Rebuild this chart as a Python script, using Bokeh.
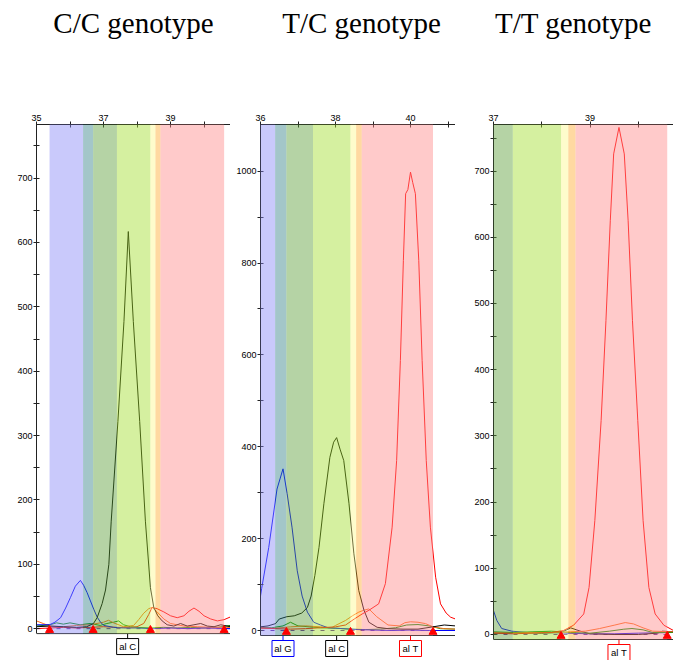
from bokeh.plotting import figure
from bokeh.layouts import column, row
from bokeh.models import Range1d, FixedTicker, Span
from bokeh.core.properties import value
from bokeh.embed import file_html
from bokeh.resources import INLINE

# ---------------- data ----------------
titles = ["C/C genotype", "T/C genotype", "T/T genotype"]
title_x = [133, 361, 573]

# allele bins (size, bp) shared by the three panels
bin_left = [35.39, 36.39, 36.69, 37.40, 38.40, 38.55, 38.70]
bin_right = [36.39, 36.69, 37.40, 38.40, 38.55, 38.70, 40.60]
bin_colors = ["#8787f6", "#338087", "#5a9d37", "#a2de2c", "#fdf88e", "#ffab2e", "#ff8989"]
bin_marks = [35.39, 36.69, 38.40, 40.60]

# ---- panel 1 : C/C ----
p1_black_x = [35.0, 35.4, 35.8, 36.2, 36.5, 36.7, 36.81, 36.96, 37.06, 37.16, 37.23, 37.43, 37.61, 37.74,
              37.89, 38.08, 38.25, 38.40, 38.50, 38.62, 38.75, 38.9, 39.1, 39.3, 39.5, 39.7, 39.9, 40.1, 40.3, 40.5, 40.78]
p1_black_y = [3, 4, 3, 2, 3, 8, 17, 39, 60, 100, 167, 322, 477, 617,
              477, 322, 167, 64, 33, 20, 12, 6, 4, 8, 4, 6, 8, 4, 3, 6, 3]
p1_blue_x = [35.0, 35.39, 35.55, 35.72, 35.87, 36.01, 36.16, 36.31, 36.41, 36.51, 36.61, 36.71, 36.81, 36.91,
             37.01, 37.3, 37.6, 38.0, 38.5, 39.0, 39.5, 40.0, 40.78]
p1_blue_y = [6, 6, 10, 17, 32, 48, 66, 75, 67, 56, 43, 30, 18, 10, 5, 2, 1, 1, 0, 1, 0, 1, 0]
p1_red_x = [35.0, 35.4, 35.8, 36.2, 36.6, 37.0, 37.4, 37.8, 38.0, 38.2, 38.35, 38.45, 38.6, 38.8, 39.0, 39.2,
            39.4, 39.55, 39.7, 39.85, 40.0, 40.2, 40.4, 40.6, 40.78]
p1_red_y = [0, 1, 2, 1, 2, 3, 2, 2, 3, 8, 22, 33, 31, 26, 20, 17, 20, 27, 32, 27, 20, 15, 12, 14, 18]
p1_orange_x = [35.0, 35.2, 35.4, 35.8, 36.2, 36.6, 37.0, 37.15, 37.3, 37.6, 37.9, 38.05, 38.2, 38.35, 38.45,
               38.6, 38.8, 39.0, 39.4, 39.8, 40.2, 40.78]
p1_orange_y = [12, 8, 4, 3, 5, 6, 10, 13, 9, 3, 5, 14, 24, 31, 33, 26, 15, 8, 4, 3, 2, 2]
p1_green_x = [35.0, 35.4, 35.6, 35.8, 36.0, 36.3, 36.6, 36.9, 37.1, 37.3, 37.45, 37.6, 37.8, 38.0, 38.4, 38.8,
              39.2, 39.6, 40.0, 40.4, 40.78]
p1_green_y = [4, 6, 9, 7, 9, 6, 8, 5, 8, 10, 12, 6, 3, 2, 1, 2, 1, 2, 1, 2, 5]
p1_purple_x = [35.0, 36.0, 37.0, 38.0, 39.0, 40.0, 40.78]
p1_purple_y = [0, 0, 0, 0, 0, 0, 0]
p1_allele_x = [37.72]
p1_allele_text = ["al C"]
p1_allele_color = ["#000000"]

# ---- panel 2 : T/C ----
p2_blue_x = [36.0, 36.03, 36.22, 36.44, 36.52, 36.60, 36.71, 36.84, 36.98, 37.11, 37.25, 37.42, 37.6, 37.8,
             38.2, 38.6, 39.0, 39.5, 40.0, 40.5, 41.2]
p2_blue_y = [75, 91, 181, 308, 330, 352, 298, 225, 130, 75, 40, 18, 12, 6, 4, 2, 1, 0, 1, 0, 0]
p2_black_x = [36.0, 36.2, 36.4, 36.5, 36.7, 36.9, 37.1, 37.25, 37.35, 37.45, 37.56, 37.69, 37.85, 37.95, 38.03,
              38.12, 38.22, 38.36, 38.49, 38.62, 38.76, 38.89, 39.11, 39.4, 39.8, 40.2, 40.6, 40.9, 41.2]
p2_black_y = [8, 10, 15, 25, 30, 32, 38, 50, 75, 120, 181, 276, 377, 410, 420,
              395, 370, 276, 167, 87, 44, 18, 7, 4, 3, 3, 8, 12, 10]
p2_red_x = [36.0, 36.4, 36.8, 37.2, 37.6, 38.0, 38.27, 38.5, 38.71, 38.89, 39.15, 39.33, 39.51, 39.63, 39.73,
            39.81, 39.87, 39.93, 40.0, 40.06, 40.13, 40.22, 40.31, 40.42, 40.53, 40.67, 40.8, 40.95, 41.07, 41.2]
p2_red_y = [6, 4, 3, 4, 6, 8, 12, 25, 36, 44, 58, 102, 225, 370, 588,
            806, 951, 960, 998, 975, 951, 806, 588, 370, 225, 116, 58, 38, 29, 25]
p2_orange_x = [36.0, 36.4, 36.8, 37.2, 37.6, 37.9, 38.0, 38.27, 38.45, 38.62, 38.75, 38.89, 39.1, 39.4, 39.7,
               39.85, 40.0, 40.2, 40.4, 40.6, 40.9, 41.2]
p2_orange_y = [4, 5, 8, 10, 8, 6, 11, 22, 32, 40, 44, 47, 30, 12, 10, 17, 19, 18, 15, 8, 4, 3]
p2_green_x = [36.0, 36.3, 36.6, 36.8, 37.0, 37.3, 37.6, 38.0, 38.4, 38.8, 39.2, 39.6, 39.9, 40.2, 40.5, 40.8, 41.2]
p2_green_y = [6, 6, 10, 18, 10, 8, 6, 5, 3, 2, 3, 6, 12, 13, 10, 4, 3]
p2_purple_x = [36.0, 37.0, 38.0, 39.0, 40.0, 41.2]
p2_purple_y = [0, 0, 0, 0, 0, 0]
p2_allele_x = [36.60, 38.03, 40.0]
p2_allele_text = ["al G", "al C", "al T"]
p2_allele_color = ["#0000ff", "#000000", "#ff0000"]

# ---- panel 3 : T/T ----
p3_red_x = [37.0, 37.4, 37.8, 38.2, 38.45, 38.66, 38.87, 38.98, 39.1, 39.23, 39.33, 39.42, 39.49, 39.60,
            39.71, 39.79, 39.88, 39.99, 40.1, 40.22, 40.35, 40.53, 40.73]
p3_red_y = [2, 1, 2, 3, 6, 14, 31, 71, 172, 323, 474, 625, 726, 766,
            726, 625, 474, 323, 172, 71, 31, 14, 6]
p3_orange_x = [37.0, 37.4, 37.8, 38.2, 38.6, 38.9, 39.2, 39.5, 39.73, 39.9, 40.1, 40.3, 40.73]
p3_orange_y = [3, 2, 3, 3, 4, 5, 9, 14, 18, 16, 10, 5, 4]
p3_green_x = [37.0, 37.4, 37.8, 38.2, 38.6, 39.0, 39.4, 39.7, 39.87, 40.1, 40.3, 40.73]
p3_green_y = [4, 3, 4, 5, 3, 2, 5, 8, 9, 7, 3, 3]
p3_blue_x = [37.0, 37.07, 37.17, 37.38, 37.7, 38.0, 38.5, 39.0, 39.5, 40.0, 40.73]
p3_blue_y = [36, 21, 9, 5, 3, 4, 2, 1, 1, 2, 3]
p3_black_x = [37.0, 37.5, 38.0, 38.4, 38.6, 38.8, 39.0, 39.5, 40.0, 40.4, 40.5, 40.73]
p3_black_y = [2, 3, 2, 3, 10, 5, 1, 0, 0, 2, 5, 4]
p3_purple_x = [37.0, 38.0, 39.0, 40.0, 40.73]
p3_purple_y = [0, 0, 0, 0, 0]
p3_allele_x = [39.60]
p3_allele_text = ["al T"]
p3_allele_color = ["#ff0000"]

# ---------------- styling / build ----------------
AX = "#222222"
FIG_H = 600
ALPHA = 0.45


def style_axis(ax):
    ax.axis_line_color = AX
    ax.major_tick_line_color = AX
    ax.minor_tick_line_color = AX
    ax.major_tick_in = 3
    ax.major_tick_out = 3
    ax.minor_tick_in = 3
    ax.minor_tick_out = 3
    ax.major_label_text_font = "Liberation Sans"
    ax.major_label_text_font_size = "9px"
    ax.major_label_text_color = "#000000"
    ax.major_label_standoff = 1


def make_panel(width, b_left, b_top, xr, yr, y_line, x_major, x_minor, y_major, y_minor,
               traces, al_x, al_text, al_color):
    p = figure(width=width, height=FIG_H, x_range=Range1d(*xr), y_range=Range1d(*yr),
               output_backend="svg", toolbar_location=None, x_axis_location="above",
               min_border_left=b_left, min_border_top=b_top, min_border_right=0,
               min_border_bottom=0, outline_line_color=None)
    p.xgrid.visible = False
    p.ygrid.visible = False
    xa = p.xaxis[0]
    xa.ticker = FixedTicker(ticks=x_major, minor_ticks=x_minor)
    ya = p.yaxis[0]
    ya.ticker = FixedTicker(ticks=y_major, minor_ticks=y_minor)
    ya.bounds = (y_line, yr[1])
    style_axis(xa)
    style_axis(ya)

    scale = (FIG_H - b_top) / (yr[1] - yr[0])  # px per unit

    for xs, ys, col, dash in traces:
        p.line(xs, ys, line_color=col, line_width=1, line_dash=dash)

    # semi-transparent allele bins drawn over everything, limited to the visible range
    keep = [i for i in range(len(bin_left)) if bin_right[i] > xr[0] and bin_left[i] < xr[1]]
    bl = [max(bin_left[i], xr[0]) for i in keep]
    br = [min(bin_right[i], xr[1]) for i in keep]
    bc = [bin_colors[i] for i in keep]
    p.quad(left=bl, right=br, bottom=y_line, top=yr[1],
           fill_color=bc, fill_alpha=ALPHA, line_color=None, level="overlay")

    p.add_layout(Span(location=y_line, dimension="width", line_color="#303030", line_width=1))

    mk = [m for m in bin_marks if xr[0] <= m <= xr[1]]
    p.scatter(mk, [y_line + 3.5 / scale] * len(mk), marker="triangle", size=8,
              fill_color="#ff0000", line_color="#ff0000", level="overlay")

    box_y = y_line - 13 / scale
    p.segment(x0=al_x, y0=[y_line] * len(al_x), x1=al_x, y1=[box_y] * len(al_x),
              line_color=al_color, line_width=1)
    p.rect(x=al_x, y=[box_y] * len(al_x), width=22, height=16, width_units="screen",
           height_units="screen", fill_color="#ffffff", line_color=al_color, line_width=1)
    p.text(x=al_x, y=[box_y] * len(al_x), text=al_text, text_align="center",
           text_baseline="middle", text_font=value("Liberation Sans"), text_font_size="9.5px",
           text_color="#000000")
    return p


BLK, BLU, RED, GRN, ORG, PUR = "#000000", "#0000ff", "#ff0000", "#009000", "#ff6a1a", "#5a1aa0"

p1 = make_panel(230, 36, 62, (35.0, 40.79), (-49.5, 783.3), -7.7,
                [35, 37, 39], [36, 38, 40],
                [0, 100, 200, 300, 400, 500, 600, 700], [50, 150, 250, 350, 450, 550, 650, 750],
                [(p1_purple_x, p1_purple_y, PUR, "4 6"),
                 (p1_green_x, p1_green_y, GRN, "solid"),
                 (p1_orange_x, p1_orange_y, ORG, "solid"),
                 (p1_red_x, p1_red_y, RED, "solid"),
                 (p1_blue_x, p1_blue_y, BLU, "solid"),
                 (p1_black_x, p1_black_y, BLK, "solid")],
                p1_allele_x, p1_allele_text, p1_allele_color)

p2 = make_panel(225, 30, 64, (36.0, 41.2), (-65.3, 1101.7), -10.9,
                [36, 38, 40], [37, 39, 41],
                [0, 200, 400, 600, 800, 1000], [100, 300, 500, 700, 900],
                [(p2_purple_x, p2_purple_y, PUR, "4 6"),
                 (p2_green_x, p2_green_y, GRN, "solid"),
                 (p2_orange_x, p2_orange_y, ORG, "solid"),
                 (p2_blue_x, p2_blue_y, BLU, "solid"),
                 (p2_black_x, p2_black_y, BLK, "solid"),
                 (p2_red_x, p2_red_y, RED, "solid")],
                p2_allele_x, p2_allele_text, p2_allele_color)

p3 = make_panel(218, 38, 64, (37.0, 40.73), (-39.3, 770.4), -7.6,
                [37, 39], [38, 40],
                [0, 100, 200, 300, 400, 500, 600, 700], [50, 150, 250, 350, 450, 550, 650, 750],
                [(p3_purple_x, p3_purple_y, PUR, "4 6"),
                 (p3_blue_x, p3_blue_y, BLU, "solid"),
                 (p3_black_x, p3_black_y, BLK, "solid"),
                 (p3_green_x, p3_green_y, GRN, "solid"),
                 (p3_orange_x, p3_orange_y, ORG, "solid"),
                 (p3_red_x, p3_red_y, RED, "solid")],
                p3_allele_x, p3_allele_text, p3_allele_color)

# title strip
pt = figure(width=673, height=60, x_range=Range1d(0, 673), y_range=Range1d(60, 0),
            output_backend="svg", toolbar_location=None, min_border=0, outline_line_color=None)
pt.axis.visible = False
pt.xgrid.visible = False
pt.ygrid.visible = False
pt.text(x=title_x, y=[22] * len(title_x), text=titles, text_align="center", text_baseline="middle",
        text_font=value("Liberation Serif"), text_font_size="29px", text_color="#000000")

layout = column(pt, row(p1, p2, p3, spacing=0), spacing=0)

with open("out.html", "w") as f:
    f.write(file_html(layout, INLINE))
